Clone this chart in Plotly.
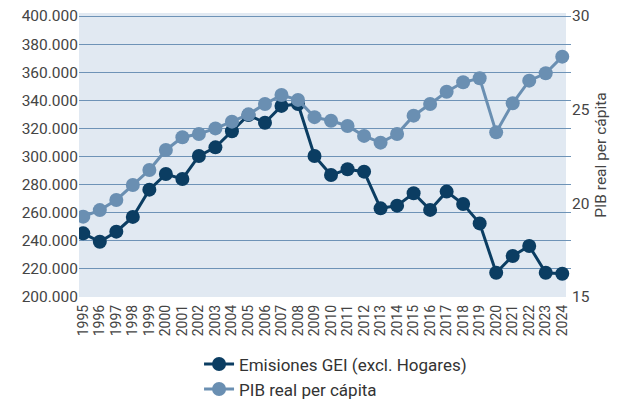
import plotly.graph_objects as go

years = list(range(1995, 2025))
year_labels = [str(y) for y in years]

emisiones = [245300, 239300, 246500, 257000, 276400, 287500, 284000, 300400, 306500, 318000,
             329500, 324000, 336000, 337400, 300400, 286800, 290900, 289200, 263100, 265000,
             273800, 262000, 275000, 266200, 252400, 217300, 229200, 236300, 217300, 216500]

pib = [19.29, 19.64, 20.18, 20.98, 21.78, 22.85, 23.53, 23.70, 24.00, 24.36,
       24.75, 25.30, 25.78, 25.52, 24.60, 24.41, 24.13, 23.60, 23.24, 23.70,
       24.68, 25.30, 25.96, 26.46, 26.68, 23.79, 25.34, 26.55, 26.94, 27.83]

left_ticks = list(range(200000, 400001, 20000))
right_ticks = [15, 20, 25, 30]

dark = "#0b3d62"
light = "#6a8fb2"
font_family = "Roboto, 'Liberation Sans', sans-serif"

fig = go.Figure()
fig.add_trace(go.Scatter(
    x=years, y=pib, name="PIB real per cápita",
    mode="lines+markers", line=dict(color=light, width=3),
    marker=dict(color=light, size=14), yaxis="y2"))
fig.add_trace(go.Scatter(
    x=years, y=emisiones, name="Emisiones GEI (excl. Hogares)",
    mode="lines+markers", line=dict(color=dark, width=3),
    marker=dict(color=dark, size=14), yaxis="y"))

# plot background panel (gridlines run a little past it on the right)
fig.add_shape(type="rect", xref="paper", yref="paper", x0=0, x1=0.9898, y0=0, y1=1,
              fillcolor="#e1e9f2", line=dict(width=0), layer="below")

fig.update_layout(
    width=613, height=393,
    margin=dict(l=71, r=50, t=5, b=104, autoexpand=False),
    paper_bgcolor="white", plot_bgcolor="white",
    separators=",.",
    font=dict(family=font_family, color="#333333", size=14),
    showlegend=True,
    legend=dict(orientation="v", x=0.244, xanchor="left", y=-0.174, yanchor="top",
                traceorder="reversed", font=dict(size=17, color="#333333"),
                itemwidth=30, tracegroupgap=0),
    xaxis=dict(range=[1994.74, 2024.53], tickmode="array", tickvals=years, ticktext=year_labels,
               tickangle=-90, tickfont=dict(size=14, color="#444444"), automargin=False,
               ticklabelstandoff=4,
               showgrid=False, zeroline=False, showline=False, ticks=""),
    yaxis=dict(range=[200000, 402135], tickmode="array", tickvals=left_ticks, automargin=False,
               tickformat=",", showgrid=True, gridcolor="#6e93b7", gridwidth=1,
               ticklabeloverflow="allow",
               zeroline=False, tickfont=dict(size=15.5, color="#444444"), ticks=""),
    yaxis2=dict(range=[15, 30.16], overlaying="y", side="right", tickmode="array", automargin=False,
                tickvals=right_ticks, showgrid=False, zeroline=False,
                ticklabeloverflow="allow",
                tickfont=dict(size=15.5, color="#444444"),
                title=dict(text="PIB real per cápita", font=dict(size=15.5, color="#444444"), standoff=6)),
)

fig.write_html("out.html")
